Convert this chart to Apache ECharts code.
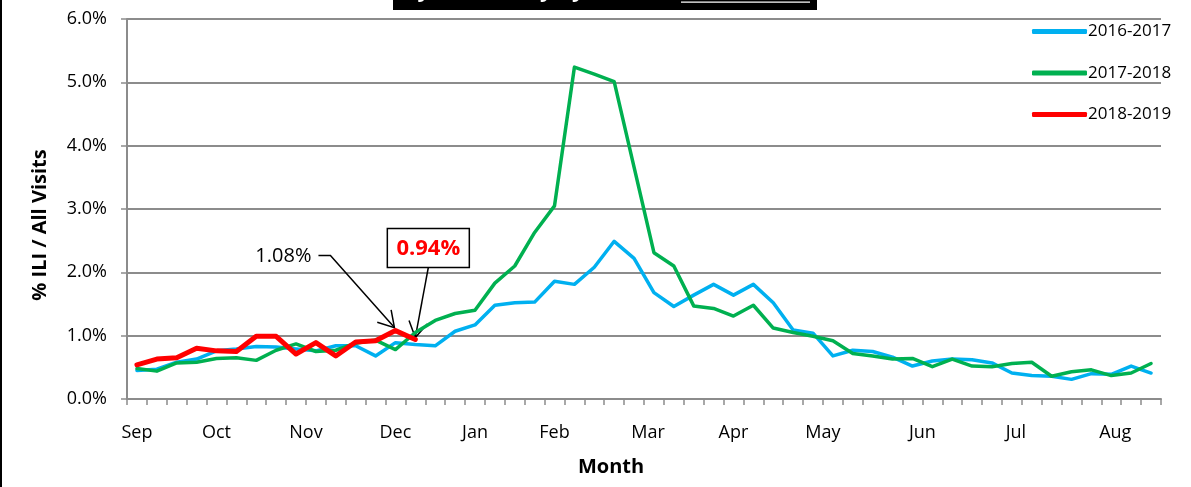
<!DOCTYPE html>
<html>
<head>
<meta charset="utf-8">
<script src="https://cdn.jsdelivr.net/npm/echarts@6/dist/echarts.min.js"></script>
<style>
html,body{margin:0;padding:0;background:#fff;}
#chart{width:1191px;height:487px;}
</style>
</head>
<body>
<div id="chart"></div>
<script>
// ---- data ----
const seasonNames = ['2016-2017', '2017-2018', '2018-2019'];
const season2016 = [0.45,0.47,0.58,0.63,0.76,0.79,0.83,0.82,0.79,0.76,0.84,0.84,0.68,0.89,0.86,0.84,1.07,1.17,1.48,1.52,1.53,1.86,1.81,2.08,2.49,2.22,1.68,1.46,1.64,1.81,1.64,1.81,1.52,1.09,1.04,0.68,0.77,0.75,0.66,0.52,0.60,0.63,0.62,0.57,0.41,0.37,0.36,0.31,0.40,0.39,0.52,0.41];
const season2017 = [0.48,0.44,0.57,0.58,0.64,0.65,0.61,0.77,0.87,0.75,0.77,0.88,0.93,0.78,1.05,1.24,1.35,1.40,1.83,2.10,2.63,3.05,5.24,5.13,5.01,3.66,2.31,2.10,1.47,1.43,1.31,1.48,1.12,1.05,0.99,0.92,0.72,0.68,0.63,0.64,0.51,0.63,0.52,0.51,0.56,0.58,0.36,0.43,0.46,0.37,0.41,0.56];
const season2018 = [0.54,0.63,0.65,0.80,0.76,0.75,0.99,0.99,0.71,0.89,0.68,0.90,0.92,1.08,0.94];
const weekCount = 52;
const monthLabels = ['Sep','Oct','Nov','Dec','Jan','Feb','Mar','Apr','May','Jun','Jul','Aug'];
const monthPos = [0.5,4.5,9,13.5,17.5,21.5,26.2,30.5,35,40,44.7,49.7];
const yTicks = [0,1,2,3,4,5,6];
const annotationWeeks = [13, 14]; // 1.08% and 0.94%
const titleLeft = 'Weekly ILI Activity by Season,';
const titleRight = '2018-2019';

const weekTicks = [];
for (let i = 0; i <= weekCount; i++) weekTicks.push(i);
const toXY = arr => arr.map((v, i) => [i + 0.5, v]);

const FONT = 'Open Sans';
const GRAY = '#8c8c8c';
const chart = echarts.init(document.getElementById('chart'), null, {renderer: 'canvas'});

chart.setOption({
  animation: false,
  backgroundColor: '#fff',
  textStyle: {fontFamily: FONT},
  grid: {left: 127, right: 30, top: 19, bottom: 88, outerBoundsMode: 'none', containLabel: false},
  legend: {
    orient: 'vertical',
    left: 1027, top: 18,
    itemWidth: 55, itemHeight: 5, itemGap: 24.5,
    icon: 'roundRect',
    textStyle: {fontFamily: FONT, fontSize: 17, color: '#000', padding: [0,0,0,-4]},
    data: seasonNames
  },
  xAxis: {
    type: 'value', min: 0, max: weekCount,
    axisLine: {show: true, lineStyle: {color: GRAY, width: 2}},
    axisTick: {show: true, length: 6, customValues: weekTicks, lineStyle: {color: GRAY, width: 1.5}},
    splitLine: {show: false},
    axisLabel: {
      customValues: monthPos,
      margin: 25,
      fontFamily: FONT, fontSize: 18, color: '#000',
      formatter: v => {
        let best = 0, d = 1e9;
        monthPos.forEach((p, i) => { if (Math.abs(p - v) < d) { d = Math.abs(p - v); best = i; } });
        return monthLabels[best];
      }
    }
  },
  yAxis: {
    type: 'value', min: 0, max: 6, interval: 1,
    axisLine: {show: true, lineStyle: {color: GRAY, width: 2}},
    axisTick: {show: true, length: 6, lineStyle: {color: GRAY, width: 1.5}},
    splitLine: {show: true, lineStyle: {color: GRAY, width: 2}},
    axisLabel: {margin: 20, fontFamily: FONT, fontSize: 18, color: '#000', formatter: v => v.toFixed(1) + '%'}
  },
  series: [
    {name: seasonNames[0], type: 'line', data: toXY(season2016), symbol: 'none', color: '#00B0F0',
     lineStyle: {width: 3.5, color: '#00B0F0', join: 'round', cap: 'round'}},
    {name: seasonNames[1], type: 'line', data: toXY(season2017), symbol: 'none', color: '#00B050',
     lineStyle: {width: 3.5, color: '#00B050', join: 'round', cap: 'round'}},
    {name: seasonNames[2], type: 'line', data: toXY(season2018), symbol: 'none', color: '#FF0000',
     lineStyle: {width: 5, color: '#FF0000', join: 'round', cap: 'round'}}
  ]
});

// ---- annotations positioned from data coordinates ----
function arrowHead(tip, from, L, ang) {
  const dx = from[0] - tip[0], dy = from[1] - tip[1];
  const base = Math.atan2(dy, dx);
  const a1 = base + ang, a2 = base - ang;
  return [[tip[0] + L * Math.cos(a1), tip[1] + L * Math.sin(a1)], tip, [tip[0] + L * Math.cos(a2), tip[1] + L * Math.sin(a2)]];
}
const wA = annotationWeeks[0], wB = annotationWeeks[1];
const pA = chart.convertToPixel({gridIndex: 0}, [wA + 0.5, season2018[wA]]);
const pB = chart.convertToPixel({gridIndex: 0}, [wB + 0.5, season2018[wB]]);
const tipA = [pA[0] - 1, pA[1] - 3];
const startA = [pA[0] - 65, pA[1] - 75];
const tipB = [pB[0], pB[1] - 2];
const startB = [pB[0] + 13, pB[1] - 72];
const ang = 31 * Math.PI / 180;
const stroke = {stroke: '#000', lineWidth: 1.5, fill: null};

chart.setOption({
  graphic: [
    {type: 'rect', shape: {x: 0, y: 0, width: 2, height: 487}, style: {fill: '#000'}, silent: true},
    {type: 'rect', shape: {x: 393, y: 0, width: 424, height: 10}, style: {fill: '#000'}, silent: true},
    {type: 'text', x: 674, y: 2, style: {text: titleLeft, fill: '#fff', font: 'bold 22px "Open Sans"', align: 'right', verticalAlign: 'bottom'}, silent: true},
    {type: 'text', x: 681, y: 2, style: {text: titleRight, fill: '#fff', font: 'bold 22px "Open Sans"', align: 'left', verticalAlign: 'bottom'}, silent: true},
    {type: 'rect', shape: {x: 681, y: 1.5, width: 129, height: 1.2}, style: {fill: '#fff'}, silent: true},
    // axis titles
    {type: 'text', x: 40, y: 225, rotation: Math.PI / 2,
     style: {text: '% ILI / All Visits', font: 'bold 20px "Open Sans"', fill: '#000', align: 'center', verticalAlign: 'middle'}},
    {type: 'text', x: 611, y: 467,
     style: {text: 'Month', font: 'bold 20px "Open Sans"', fill: '#000', align: 'center', verticalAlign: 'middle'}},
    // 1.08% annotation
    {type: 'text', x: startA[0] - 19, y: startA[1] + 1,
     style: {text: '1.08%', font: '20px "Open Sans"', fill: '#000', align: 'right', verticalAlign: 'middle'}},
    {type: 'polyline', shape: {points: [[startA[0] - 12, startA[1]], startA, tipA]}, style: stroke},
    {type: 'polyline', shape: {points: arrowHead(tipA, startA, 18, ang)}, style: stroke},
    // 0.94% annotation
    {type: 'rect', shape: {x: pB[0] - 28, y: pB[1] - 111, width: 82, height: 39},
     style: {fill: '#fff', stroke: '#000', lineWidth: 1.5}},
    {type: 'text', x: pB[0] + 13, y: pB[1] - 91,
     style: {text: '0.94%', font: 'bold 22px "Open Sans"', fill: '#FF0000', align: 'center', verticalAlign: 'middle'}},
    {type: 'polyline', shape: {points: [startB, tipB]}, style: stroke},
    {type: 'polyline', shape: {points: arrowHead(tipB, startB, 18, ang)}, style: stroke}
  ]
});
</script>
</body>
</html>
